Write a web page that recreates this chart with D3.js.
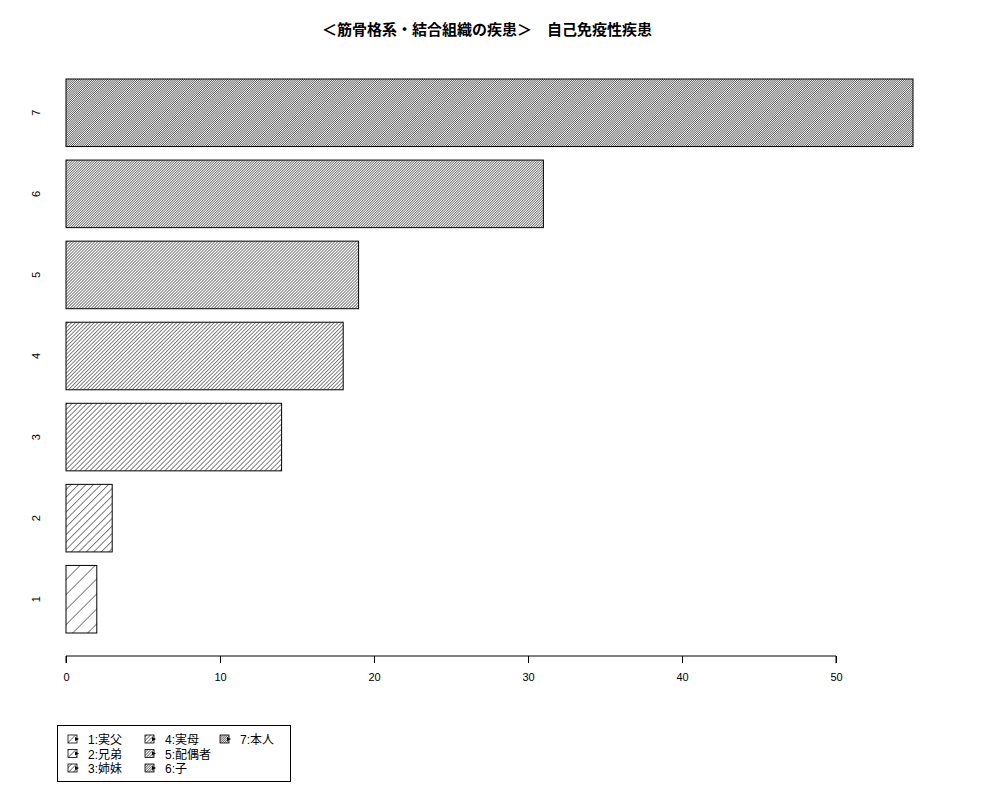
<!DOCTYPE html>
<html>
<head>
<meta charset="utf-8">
<script src="https://cdn.jsdelivr.net/npm/d3@7"></script>
<style>
  body { margin: 0; background: #fff; }
  text { font-family: "Liberation Sans", "Noto Sans CJK JP", sans-serif; }
</style>
</head>
<body>
<svg id="chart" width="1000" height="800"></svg>
<script>
const title = "＜筋骨格系・結合組織の疾患＞　自己免疫性疾患";
const categories = ["1", "2", "3", "4", "5", "6", "7"];
const values = [2, 3, 14, 18, 19, 31, 55];
const hatchLevel = [1, 2, 3, 4, 5, 6, 7];   // 斜線の密度（段階）
const legendLabels = ["1:実父", "2:兄弟", "3:姉妹", "4:実母", "5:配偶者", "6:子", "7:本人"];
const xTicks = [0, 10, 20, 30, 40, 50];

const svg = d3.select("#chart");

// スケール（R barplot 風：幅1、間隔0.2）
const x = d3.scaleLinear().domain([0, 50]).range([66, 836]);
const y = d3.scaleLinear().domain([0.2, 8.4]).range([633, 79]);

// 斜線パターン
const defs = svg.append("defs");
hatchLevel.forEach((k, i) => {
  const step = 15 / k / Math.SQRT2;
  const p = defs.append("pattern")
    .attr("id", "hatch" + i)
    .attr("patternUnits", "userSpaceOnUse")
    .attr("width", step)
    .attr("height", 20)
    .attr("patternTransform", "rotate(45)");
  p.append("line")
    .attr("x1", 0).attr("y1", 0)
    .attr("x2", 0).attr("y2", 20)
    .attr("stroke", "#000")
    .attr("stroke-width", 1);
});

// タイトル
svg.append("text")
  .attr("x", 487).attr("y", 35)
  .attr("text-anchor", "middle")
  .style("font-family", "'Noto Sans CJK JP', sans-serif")
  .style("font-weight", "bold")
  .style("font-size", "15px")
  .text(title);

// バー
const bars = svg.append("g");
categories.forEach((c, i) => {
  const y0 = 0.2 + i * 1.2;
  bars.append("rect")
    .attr("x", x(0))
    .attr("y", y(y0 + 1))
    .attr("width", x(values[i]) - x(0))
    .attr("height", y(y0) - y(y0 + 1))
    .attr("fill", "url(#hatch" + i + ")")
    .attr("stroke", "#000")
    .attr("stroke-width", 1);

  svg.append("text")
    .attr("transform", `translate(40,${y(y0 + 0.5)}) rotate(-90)`)
    .attr("text-anchor", "middle")
    .style("font-size", "11px")
    .text(c);
});

// x 軸
const xAxis = svg.append("g")
  .attr("transform", "translate(0,656)")
  .call(d3.axisBottom(x).tickValues(xTicks).tickSize(7).tickPadding(10).tickFormat(d3.format("d")));
xAxis.selectAll("path, line").attr("stroke", "#000");
xAxis.selectAll("text").style("font-size", "11px").style("font-family", "'Liberation Sans', sans-serif");
xAxis.select(".domain").attr("d", `M${x(0)},7V0H${x(50)}V7`);

// 凡例
const legend = svg.append("g");
legend.append("rect")
  .attr("x", 57.5).attr("y", 725.5)
  .attr("width", 233).attr("height", 56)
  .attr("fill", "none").attr("stroke", "#000");

const colX = [68, 145, 220];
legendLabels.forEach((lab, i) => {
  const col = Math.floor(i / 3), row = i % 3;
  const gx = colX[col], gy = 735 + row * 14.5;
  legend.append("rect")
    .attr("x", gx).attr("y", gy)
    .attr("width", 9).attr("height", 8)
    .attr("fill", "url(#hatch" + i + ")")
    .attr("stroke", "#000").attr("stroke-width", 0.8);
  legend.append("path")
    .attr("d", `M${gx + 7},${gy + 2}l4,2l-4,2z`)
    .attr("fill", "#000");
  legend.append("text")
    .attr("x", gx + 20).attr("y", gy + 9)
    .style("font-size", "12px")
    .style("font-family", "'Liberation Sans', 'Noto Sans CJK JP', sans-serif")
    .text(lab);
});
</script>
</body>
</html>
